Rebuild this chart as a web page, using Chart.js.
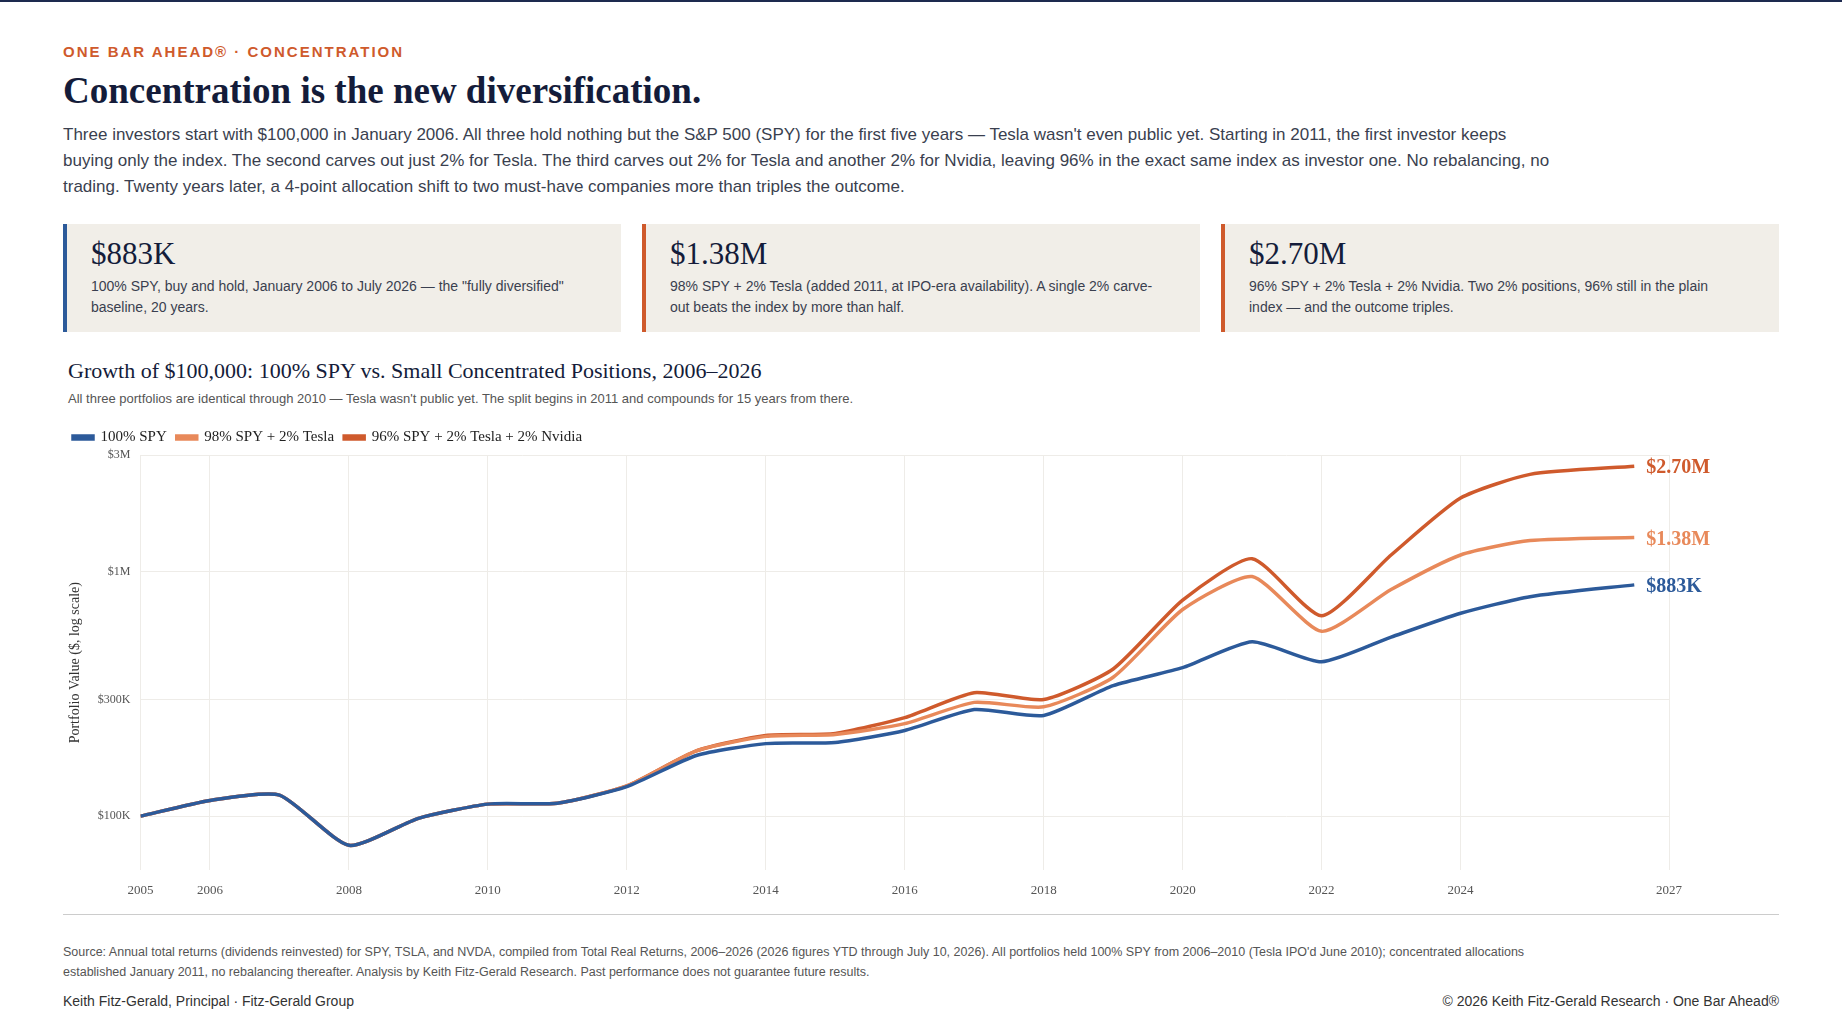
<!DOCTYPE html>
<html lang="en">
<head>
<meta charset="UTF-8">
<title>Concentration is the new diversification</title>
<script src="https://cdn.jsdelivr.net/npm/chart.js"></script>
<style>
    body { margin: 0; background: #fff; font-family: "Liberation Sans", Arial, sans-serif; color: #1d2540; }
    .page { width: 1842px; height: 1036px; box-sizing: border-box; border-top: 2px solid #1d2a4f; padding: 0 63px; position: relative; }
    .kicker { margin-top: 41px; color: #cf5a2c; font-weight: bold; letter-spacing: 2px; font-size: 15px; }
    h1 { font-family: "Liberation Serif", serif; font-size: 37px; margin: 9px 0 10px; color: #141c3a; }
    .lead { font-size: 17px; line-height: 26px; color: #3a3f4f; width: 1490px; margin: 0; }
    .cards { display: flex; gap: 21px; margin-top: 24px; }
    .card { flex: 1; background: #f1eee8; border-left: 4px solid #cf5a2c; padding: 12px 24px 16px 24px; height: 80px; }
    .card.blue { border-left-color: #2c5a9a; }
    .card .big { font-family: "Liberation Serif", serif; font-size: 31px; color: #141c3a; }
    .card .txt { font-size: 14px; line-height: 21px; color: #3a3f4f; margin-top: 4px; padding-right: 20px; }
    .ctitle { font-family: "Liberation Serif", serif; font-size: 22px; margin: 26px 0 0 5px; color: #141c3a; }
    .csub { font-size: 13px; color: #555; margin: 7px 0 0 5px; }
    .chartbox { position: relative; width: 1716px; height: 490px; margin-top: 14px; }
    .rule { border-top: 1px solid #ccc; margin-top: 4px; }
    .source { font-size: 12.5px; line-height: 20px; color: #555; margin-top: 27px; width: 1520px; }
    .foot { display: flex; justify-content: space-between; font-size: 14px; color: #333; margin-top: 11px; }
</style>
</head>
<body>
<div class="page">
    <div class="kicker">ONE BAR AHEAD® · CONCENTRATION</div>
    <h1>Concentration is the new diversification.</h1>
    <p class="lead">Three investors start with $100,000 in January 2006. All three hold nothing but the S&amp;P 500 (SPY) for the first five years — Tesla wasn't even public yet. Starting in 2011, the first investor keeps buying only the index. The second carves out just 2% for Tesla. The third carves out 2% for Tesla and another 2% for Nvidia, leaving 96% in the exact same index as investor one. No rebalancing, no trading. Twenty years later, a 4-point allocation shift to two must-have companies more than triples the outcome.</p>
    <div class="cards">
        <div class="card blue"><div class="big">$883K</div><div class="txt">100% SPY, buy and hold, January 2006 to July 2026 — the "fully diversified" baseline, 20 years.</div></div>
        <div class="card"><div class="big">$1.38M</div><div class="txt">98% SPY + 2% Tesla (added 2011, at IPO-era availability). A single 2% carve-out beats the index by more than half.</div></div>
        <div class="card"><div class="big">$2.70M</div><div class="txt">96% SPY + 2% Tesla + 2% Nvidia. Two 2% positions, 96% still in the plain index — and the outcome triples.</div></div>
    </div>
    <div class="ctitle">Growth of $100,000: 100% SPY vs. Small Concentrated Positions, 2006–2026</div>
    <div class="csub">All three portfolios are identical through 2010 — Tesla wasn't public yet. The split begins in 2011 and compounds for 15 years from there.</div>
    <div class="chartbox"><canvas id="growthChart"></canvas></div>
    <div class="rule"></div>
    <div class="source">Source: Annual total returns (dividends reinvested) for SPY, TSLA, and NVDA, compiled from Total Real Returns, 2006–2026 (2026 figures YTD through July 10, 2026). All portfolios held 100% SPY from 2006–2010 (Tesla IPO'd June 2010); concentrated allocations established January 2011, no rebalancing thereafter. Analysis by Keith Fitz-Gerald Research. Past performance does not guarantee future results.</div>
    <div class="foot"><span>Keith Fitz-Gerald, Principal · Fitz-Gerald Group</span><span>© 2026 Keith Fitz-Gerald Research · One Bar Ahead®</span></div>
</div>
<script>
    const years = [2005, 2006, 2007, 2008, 2009, 2010, 2011, 2012, 2013, 2014, 2015, 2016, 2017, 2018, 2019, 2020, 2021, 2022, 2023, 2024, 2025, 2026.5];
    const spy = [100000, 116000, 122000, 76000, 98000, 112000, 113000, 132000, 177000, 198000, 200000, 224000, 273000, 258000, 342000, 405000, 517000, 428000, 540000, 676000, 790000, 883000];
    const spyTesla = [100000, 116000, 122000, 76000, 98000, 112000, 113000, 133000, 185000, 212000, 216000, 239000, 292000, 280000, 370000, 700000, 955000, 570000, 845000, 1170000, 1340000, 1380000];
    const spyTeslaNvda = [100000, 116000, 122000, 76000, 98000, 112000, 113000, 133000, 185000, 214000, 218000, 253000, 320000, 300000, 400000, 765000, 1130000, 660000, 1170000, 2000000, 2500000, 2700000];
    const xTicks = [2005, 2006, 2008, 2010, 2012, 2014, 2016, 2018, 2020, 2022, 2024, 2027];
    const yTicks = [100000, 300000, 1000000, 3000000];
    const yTickLabels = ['$100K', '$300K', '$1M', '$3M'];
    const endLabels = ['$883K', '$1.38M', '$2.70M'];

    const pts = arr => arr.map((v, i) => ({ x: years[i], y: v }));
    const serif = '"Liberation Serif", serif';

    const endLabelPlugin = {
        id: 'endLabels',
        afterDatasetsDraw(chart) {
            const ctx = chart.ctx;
            chart.data.datasets.forEach((ds, i) => {
                const last = ds.data[ds.data.length - 1];
                const x = chart.scales.x.getPixelForValue(last.x);
                const y = chart.scales.y.getPixelForValue(last.y);
                ctx.save();
                ctx.font = 'bold 20px ' + serif;
                ctx.fillStyle = ds.borderColor;
                ctx.textBaseline = 'middle';
                ctx.fillText(endLabels[i], x + 12, y + 2);
                ctx.restore();
            });
        }
    };

    new Chart(document.getElementById('growthChart'), {
        type: 'line',
        data: {
            datasets: [
                { label: '100% SPY', data: pts(spy), borderColor: '#2c5a9a', backgroundColor: '#2c5a9a' },
                { label: '98% SPY + 2% Tesla', data: pts(spyTesla), borderColor: '#e8895a', backgroundColor: '#e8895a' },
                { label: '96% SPY + 2% Tesla + 2% Nvidia', data: pts(spyTeslaNvda), borderColor: '#cf5a2c', backgroundColor: '#cf5a2c' }
            ]
        },
        options: {
            responsive: true,
            maintainAspectRatio: false,
            animation: false,
            layout: { padding: { right: 110, left: 0 } },
            elements: { line: { borderWidth: 3.5, tension: 0.2 }, point: { radius: 0 } },
            plugins: {
                legend: {
                    position: 'top', align: 'start',
                    labels: { boxWidth: 20, boxHeight: 3, font: { family: serif, size: 15 }, color: '#222', padding: 10 }
                },
                tooltip: { enabled: false }
            },
            scales: {
                x: {
                    type: 'linear', min: 2005, max: 2027,
                    afterBuildTicks: s => { s.ticks = xTicks.map(v => ({ value: v })); },
                    ticks: { callback: v => String(v), font: { family: serif, size: 13 }, color: '#555', maxRotation: 0, padding: 12 },
                    grid: { color: '#eeece8', drawTicks: false },
                    border: { display: false }
                },
                y: {
                    type: 'logarithmic', min: 60000, max: 3000000,
                    afterBuildTicks: s => { s.ticks = yTicks.map(v => ({ value: v })); },
                    ticks: { callback: v => yTickLabels[yTicks.indexOf(v)], font: { family: serif, size: 12 }, color: '#555', padding: 10 },
                    grid: { color: '#eeece8', drawTicks: false },
                    border: { display: false },
                    title: { display: true, text: 'Portfolio Value ($, log scale)', font: { family: serif, size: 14 }, color: '#333', padding: { bottom: 4 } }
                }
            }
        },
        plugins: [endLabelPlugin]
    });
</script>
</body>
</html>
